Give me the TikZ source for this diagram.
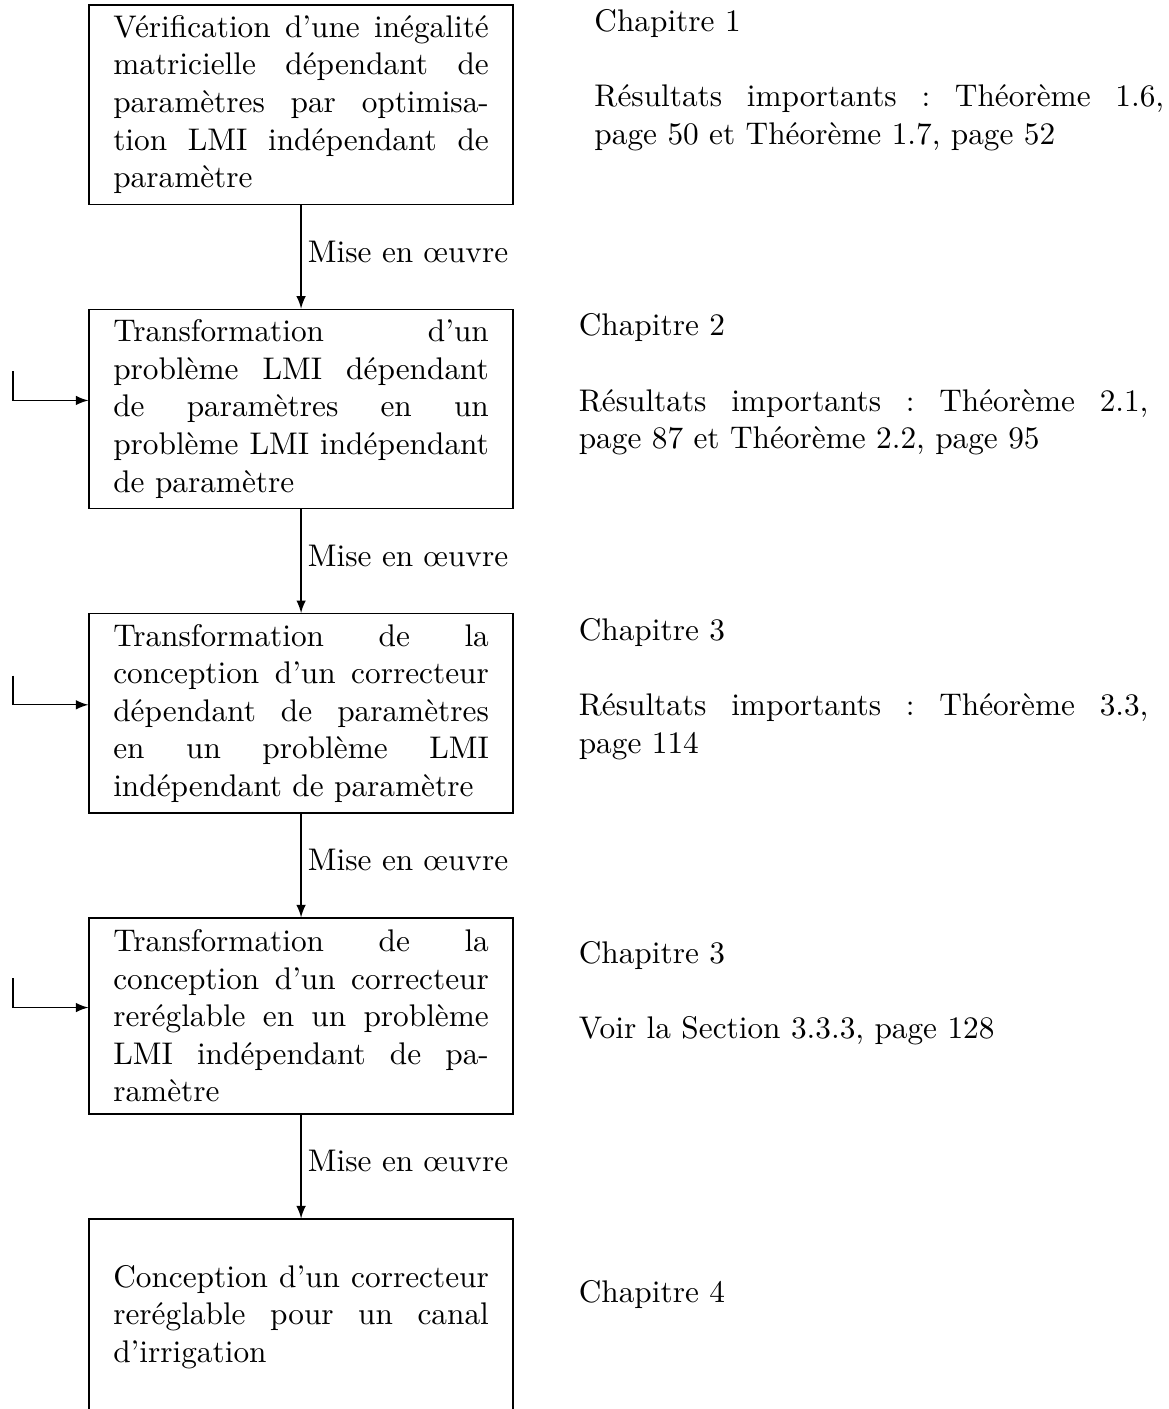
\documentclass[tikz,border=0pt]{standalone}
\usepackage{fontspec}
\usepackage{tikz}
\usetikzlibrary{positioning}
\usetikzlibrary{arrows}
\usetikzlibrary{calc}
\frenchspacing

\begin{document}
\begin{tikzpicture}[>=latex,
		etape/.style={draw, text width=120pt, align=justify, inner xsep=7.75pt, inner ysep=3.33pt, minimum height=2.2cm},
		info/.style={text width=182pt, align=justify, inner sep=0pt, anchor=base west},
		lien/.style={right, inner sep=2pt, pos=0.45}]
		% Define the page and the left border
		\useasboundingbox (0,0) rectangle (373.5pt,-450.2pt);
		\coordinate (bord) at (4.15pt,0);

		% Draw the steps
		\node[etape] (b1) at (96.2pt,-33.4pt) {Vérification d’une inégalité\linebreak matricielle dépendant de\linebreak paramètres par optimisa-\linebreak tion LMI indépendant de\linebreak paramètre};
		\node[etape, below=33.2pt of b1] (b2) {Transformation d’un\linebreak problème LMI dépendant\linebreak de paramètres en un\linebreak problème LMI indépendant\linebreak de paramètre};
		\node[etape, below=33.2pt of b2] (b3) {Transformation de la\linebreak conception d’un correcteur\linebreak dépendant de paramètres\linebreak en un problème LMI\linebreak indépendant de paramètre};
		\node[etape, below=33.2pt of b3] (b4) {Transformation de la\linebreak conception d’un correcteur\linebreak reréglable en un problème\linebreak LMI indépendant de pa-\linebreak ramètre};
		\node[etape, below=33.2pt of b4] (b5) {Conception d’un correcteur\linebreak reréglable pour un canal\linebreak d’irrigation};

		% Chapters on the right
		\node[info] (c1) at ($(b1.east)+(25.6pt,23.3pt)$) {Chapitre 1\\[12pt] Résultats importants : Théorème 1.6,\linebreak page 50 et Théorème 1.7, page 52};
		\node[info] (c2) at ($(b2.east)+(20.6pt,23.3pt)$) {Chapitre 2\\[12pt] Résultats importants : Théorème 2.1,\linebreak page 87 et Théorème 2.2, page 95};
		\node[info] (c3) at ($(b3.east)+(20.6pt,23.3pt)$) {Chapitre 3\\[12pt] Résultats importants : Théorème 3.3,\linebreak page 114};
		\node[info] (c4) at ($(b4.east)+(20.6pt,16.8pt)$) {Chapitre 3\\[12pt] Voir la Section 3.3.3, page 128};
		\node[info] (c5) at ($(b5.east)+(20.6pt,4.5pt)$) {Chapitre 4};

		% Draw the links
		\foreach \a/\b in {b1/b2, b2/b3, b3/b4, b4/b5}
			\draw[->] (\a) -- node[lien] {Mise en œuvre} (\b);

		\foreach \n in {2,3,4} {
			\coordinate (in\n) at ($(b\n.center -| bord)+(0,12pt)$);
			\draw[->] (in\n) |- ([yshift=2.7pt]b\n.west);
		}
	\end{tikzpicture}
\end{document}
